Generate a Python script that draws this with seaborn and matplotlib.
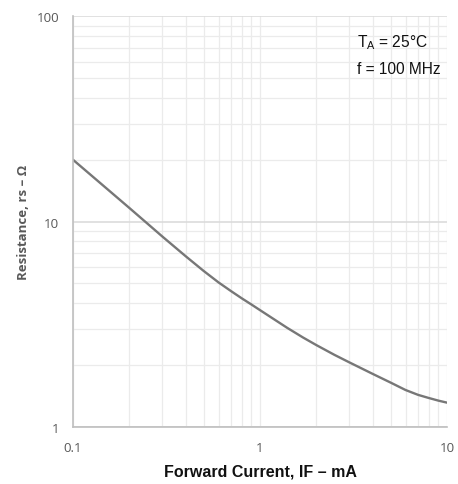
import pandas as pd
import matplotlib.pyplot as plt
import seaborn as sns
from matplotlib.ticker import LogLocator, FixedLocator, FixedFormatter, NullFormatter

# data
current_ma = [0.1, 0.15, 0.2, 0.25, 0.3, 0.4, 0.5, 0.6, 0.7, 0.8, 0.9, 1.0,
              1.2, 1.4, 1.7, 2.0, 2.5, 3.0, 4.0, 5.0, 6.0, 7.0, 8.0, 9.0, 10.0]
resistance = [20.0, 14.58, 11.65, 9.77, 8.46, 6.78, 5.74, 5.05, 4.58, 4.22, 3.94, 3.70,
              3.32, 3.03, 2.72, 2.50, 2.24, 2.06, 1.81, 1.64, 1.51, 1.43, 1.38, 1.34, 1.31]

x_ticks = [0.1, 1, 10]
x_tick_labels = ["0.1", "1", "10"]
y_ticks = [1, 10, 100]
y_tick_labels = ["1", "10", "100"]

df = pd.DataFrame({"IF": current_ma, "rs": resistance})

sns.set_theme(style="white")
plt.rcParams["font.family"] = ["Open Sans", "DejaVu Sans"]

fig = plt.figure(figsize=(4.58, 4.85), dpi=100)
ax = fig.add_axes([0.1594, 0.1181, 0.8166, 0.8462])

sns.lineplot(data=df, x="IF", y="rs", ax=ax, color="#777777", linewidth=1.7)

ax.set_xscale("log")
ax.set_yscale("log")
ax.set_xlim(0.1, 10)
ax.set_ylim(1, 100)

ax.xaxis.set_major_locator(FixedLocator(x_ticks))
ax.xaxis.set_major_formatter(FixedFormatter(x_tick_labels))
ax.yaxis.set_major_locator(FixedLocator(y_ticks))
ax.yaxis.set_major_formatter(FixedFormatter(y_tick_labels))
ax.xaxis.set_minor_locator(LogLocator(base=10, subs=range(2, 10)))
ax.yaxis.set_minor_locator(LogLocator(base=10, subs=range(2, 10)))
ax.xaxis.set_minor_formatter(NullFormatter())
ax.yaxis.set_minor_formatter(NullFormatter())

ax.xaxis.grid(True, which="both", color="#ebebeb", linewidth=0.9)
ax.yaxis.grid(True, which="minor", color="#ebebeb", linewidth=0.9)
ax.yaxis.grid(True, which="major", color="#d9d9d9", linewidth=1.1)
ax.set_axisbelow(True)

ax.tick_params(which="both", length=0)
ax.tick_params(axis="both", labelsize=9.6, labelcolor="#595959", pad=10)

for side in ["top", "right"]:
    ax.spines[side].set_visible(False)
for side in ["left", "bottom"]:
    ax.spines[side].set_color("#bfbfbf")
    ax.spines[side].set_linewidth(1.2)

ax.set_xlabel("Forward Current, IF – mA", fontsize=11.5, fontweight="bold",
              color="#111111", family=["Liberation Sans"], labelpad=7)
ax.set_ylabel("Resistance, rs – Ω", fontsize=9.5, fontweight="bold",
              color="#595959", labelpad=5)

ax.text(0.76, 0.938, r"T$_\mathregular{A}$ = 25°C", transform=ax.transAxes,
        fontsize=11.2, family=["Liberation Sans"], color="#111111", va="center")
ax.text(0.76, 0.874, "f = 100 MHz", transform=ax.transAxes,
        fontsize=11.2, family=["Liberation Sans"], color="#111111", va="center")

fig.savefig("out.png", dpi=100)
